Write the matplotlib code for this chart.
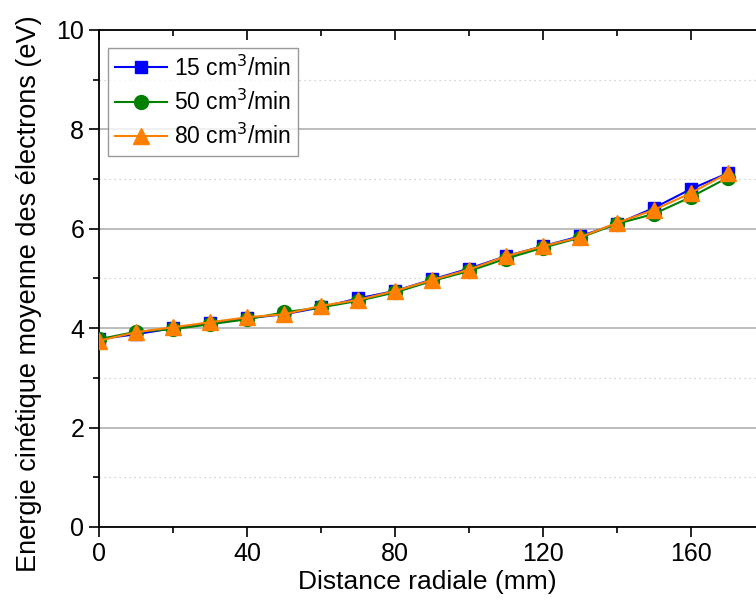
import matplotlib
matplotlib.use("Agg")
import matplotlib.pyplot as plt
from matplotlib.ticker import MultipleLocator

plt.rcParams['font.family'] = ['Liberation Sans', 'DejaVu Sans']

x = [0, 10, 20, 30, 40, 50, 60, 70, 80, 90, 100, 110, 120, 130, 140, 150, 160, 170]
y15 = [3.78, 3.88, 4.00, 4.10, 4.20, 4.28, 4.42, 4.60, 4.75, 4.98, 5.20, 5.45, 5.65, 5.85, 6.10, 6.42, 6.80, 7.12]
y50 = [3.78, 3.93, 3.98, 4.08, 4.18, 4.32, 4.42, 4.55, 4.72, 4.95, 5.15, 5.40, 5.62, 5.82, 6.10, 6.30, 6.64, 7.03]
y80 = [3.75, 3.92, 4.02, 4.12, 4.22, 4.28, 4.45, 4.57, 4.75, 4.97, 5.18, 5.45, 5.65, 5.83, 6.12, 6.38, 6.72, 7.12]
labels = ['15 cm$^3$/min', '50 cm$^3$/min', '80 cm$^3$/min']

fig = plt.figure(figsize=(7.56, 6.06), dpi=100)
ax = fig.add_axes([0.1316, 0.1304, 0.8684, 0.8201])

ax.plot(x, y15, color='#0000FF', marker='s', markersize=9, lw=1.5, label=labels[0], zorder=3)
ax.plot(x, y50, color='#008000', marker='o', markersize=10, lw=1.5, label=labels[1], zorder=4)
ax.plot(x, y80, color='#FF8000', marker='^', markersize=11, lw=1.5, label=labels[2], zorder=5)

ax.set_xlim(0, 177.6)
ax.set_ylim(0, 10)
ax.xaxis.set_major_locator(MultipleLocator(40))
ax.xaxis.set_minor_locator(MultipleLocator(20))
ax.yaxis.set_major_locator(MultipleLocator(2))
ax.yaxis.set_minor_locator(MultipleLocator(1))

ax.grid(which='major', axis='y', color='#b0b0b0', lw=1.2, ls='-')
ax.grid(which='minor', axis='y', color='#c8c8c8', lw=0.9, ls=(0, (1, 3)))
ax.set_axisbelow(True)

ax.spines['right'].set_visible(False)
for s in ['left', 'bottom', 'top']:
    ax.spines[s].set_linewidth(1.3)

ax.tick_params(axis='both', which='both', direction='out', width=1.2, labelsize=18)
ax.tick_params(which='major', length=7, pad=4)
ax.tick_params(which='minor', length=4)
ax.tick_params(axis='x', top=True, which='both')

# top ticks pointing inward
for t in ax.xaxis.get_major_ticks() + ax.xaxis.get_minor_ticks():
    t.tick2line.set_marker(3)

ax.set_xlabel('Distance radiale (mm)', fontsize=19, labelpad=3)
ax.set_ylabel('Energie cinétique moyenne des électrons (eV)', fontsize=19.5)
ax.yaxis.set_label_coords(-0.088, 0.47)

leg = ax.legend(loc='upper left', bbox_to_anchor=(0.0125, 0.963), fontsize=16.5,
                frameon=True, fancybox=False, edgecolor='#808080',
                handlelength=2.3, handletextpad=0.3, borderpad=0.3, labelspacing=0.4,
                borderaxespad=0)
leg.get_frame().set_linewidth(1.0)

fig.savefig('out.png', dpi=100)
